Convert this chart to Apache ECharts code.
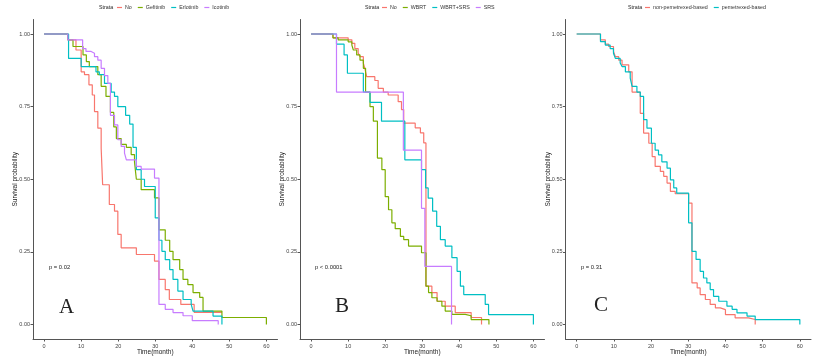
<!DOCTYPE html>
<html>
<head>
<meta charset="utf-8">
<script src="https://cdn.jsdelivr.net/npm/echarts@6/dist/echarts.min.js"></script>
<style>
  html, body { margin: 0; padding: 0; background: #fff; }
  #km { width: 816px; height: 361px; }
</style>
</head>
<body>
<div id="km"></div>
<script>
// panel A: EGFR-TKI  [month, survival]
const aNo = [[0,1],[6.4,0.98],[8.6,0.945],[10.0,0.87],[10.9,0.86],[12.1,0.825],[13.0,0.79],[13.6,0.733],[14.5,0.676],[15.4,0.607],[15.8,0.481],[17.6,0.413],[19.0,0.39],[19.9,0.31],[20.8,0.264],[24.9,0.241],[29.8,0.218],[31.0,0.155],[32.7,0.12],[33.8,0.086],[36.9,0.069],[40.5,0.042],[48,0.042]]
const aGef = [[0,1],[6.4,0.98],[7.8,0.957],[10.5,0.928],[11.4,0.905],[12.2,0.888],[14.5,0.86],[15.4,0.82],[16.7,0.785],[17.9,0.73],[18.8,0.68],[19.5,0.64],[20.8,0.62],[22.2,0.61],[23.5,0.585],[24.4,0.56],[24.9,0.50],[26.2,0.464],[29.8,0.436],[31.0,0.326],[32.7,0.29],[33.9,0.252],[34.8,0.223],[36.6,0.189],[37.5,0.155],[38.8,0.137],[40.2,0.11],[42.0,0.093],[42.9,0.046],[48,0.024],[60,0.024],[60,0]]
const aErl = [[0,1],[6.6,0.916],[10.0,0.888],[14.0,0.87],[14.9,0.86],[16.3,0.83],[18.1,0.80],[19.0,0.785],[19.9,0.75],[22.0,0.72],[23.1,0.69],[24.0,0.61],[24.9,0.533],[26.2,0.50],[27.1,0.475],[30.0,0.367],[31.0,0.29],[31.8,0.252],[32.7,0.223],[33.9,0.189],[34.8,0.155],[36.1,0.115],[37.5,0.086],[39.7,0.069],[40.2,0.046],[45.6,0.029],[48,0.029],[48,0]]
const aIco = [[0,1],[6.4,0.98],[10.4,0.95],[11.3,0.94],[12.7,0.934],[13.6,0.922],[14.5,0.91],[15.4,0.882],[16.3,0.857],[17.2,0.83],[17.9,0.72],[19.0,0.687],[19.9,0.636],[20.8,0.613],[21.7,0.59],[22.2,0.567],[24.9,0.544],[26.2,0.535],[29.8,0.504],[31.0,0.069],[32.7,0.052],[34.8,0.041],[37.5,0.03],[40.0,0.013],[47,0.013],[47,0]]

// panel B: brain radiotherapy
const bNo = [[0,1],[5.9,0.987],[10.0,0.98],[11.0,0.968],[11.8,0.95],[12.7,0.935],[13.2,0.922],[14.1,0.90],[14.5,0.882],[15.0,0.853],[17.2,0.84],[18.1,0.813],[19.5,0.80],[20.8,0.79],[23.5,0.767],[24.4,0.74],[25.0,0.693],[28.1,0.677],[29.5,0.66],[30.4,0.625],[31.0,0.132],[32.6,0.11],[34.0,0.08],[36.2,0.063],[38.9,0.041],[43.2,0.024],[46,0.024],[46,0]]
const bWbrt = [[0,1],[5.9,0.987],[7.3,0.98],[10.0,0.973],[11.0,0.962],[11.4,0.945],[12.3,0.928],[13.2,0.91],[14.1,0.882],[14.7,0.80],[15.9,0.75],[16.8,0.70],[17.9,0.573],[19.1,0.533],[20.0,0.44],[20.9,0.395],[21.8,0.35],[22.7,0.33],[24.1,0.303],[25.0,0.292],[26.3,0.27],[29.8,0.247],[31.0,0.132],[31.7,0.11],[32.6,0.092],[34.0,0.08],[35.3,0.063],[36.2,0.046],[38.0,0.035],[41.6,0.03],[43.2,0.017],[48,0.017],[48,0]]
const bWbrtSrs = [[0,1],[6.85,0.965],[8.9,0.928],[9.8,0.865],[14.1,0.80],[15.9,0.765],[19.0,0.70],[25.3,0.567],[29.8,0.533],[30.9,0.47],[31.6,0.435],[32.8,0.39],[33.9,0.338],[34.9,0.292],[36.2,0.27],[38.0,0.23],[39.4,0.183],[40.3,0.132],[41.2,0.103],[47.0,0.069],[47.9,0.034],[60,0.034],[60,0]]
const bSrs = [[0,1],[6.85,0.8],[24.9,0.6],[29.8,0.4],[30.7,0.2],[37.9,0]]

// panel C: pemetrexed
const cNonPem = [[0,1],[6.4,0.98],[7.7,0.965],[8.6,0.957],[9.9,0.94],[10.4,0.922],[11.3,0.91],[12.2,0.894],[14.0,0.87],[14.9,0.80],[17.1,0.727],[18.0,0.659],[19.4,0.624],[20.3,0.578],[21.1,0.544],[22.5,0.527],[23.4,0.51],[24.3,0.487],[25.2,0.458],[26.5,0.45],[30.1,0.418],[31.0,0.143],[32.4,0.126],[33.2,0.103],[34.6,0.086],[35.9,0.069],[37.3,0.057],[38.6,0.051],[40.0,0.034],[42.6,0.023],[46.2,0.017],[48,0.013],[48,0]]
const cPem = [[0,1],[6.4,0.974],[7.7,0.962],[9.0,0.95],[9.9,0.934],[10.4,0.916],[11.7,0.90],[12.2,0.888],[13.1,0.87],[14.4,0.848],[14.9,0.82],[16.2,0.80],[17.1,0.785],[18.0,0.705],[18.9,0.676],[20.1,0.624],[21.1,0.60],[22.0,0.584],[22.9,0.56],[24.3,0.538],[25.2,0.498],[26.1,0.47],[26.9,0.452],[30.1,0.35],[31.0,0.252],[32.1,0.224],[33.2,0.183],[34.1,0.16],[35.0,0.143],[35.9,0.12],[36.8,0.097],[38.2,0.08],[40.4,0.063],[41.8,0.052],[43.1,0.04],[45.8,0.029],[48,0.017],[60,0.017],[60,0]]

const xTicks = [0, 10, 20, 30, 40, 50, 60]
const yTicks = [0, 0.25, 0.5, 0.75, 1]

const RED = '#F8766D', GREEN = '#7CAE00', CYAN = '#00BFC4', PURPLE = '#C77CFF'

let chart = echarts.init(document.getElementById('km'))

const gridLefts = [33, 300, 565.5]
const gridWidths = [244.5, 244.5, 245.5]

function mkX (i) {
  return {
    type: 'value', gridIndex: i, min: -3, max: 63,
    splitLine: { show: false },
    axisLine: { show: true, onZero: false, lineStyle: { color: '#555', width: 1 } },
    axisTick: { show: true, customValues: xTicks, length: 2.5, lineStyle: { color: '#555' } },
    axisLabel: { customValues: xTicks, fontSize: 5.5, color: '#444', margin: 4.5, fontFamily: 'Liberation Sans' },
    name: 'Time(month)', nameLocation: 'middle', nameGap: 10, nameMoveOverlap: false,
    nameTextStyle: { fontSize: 6.5, color: '#222', fontFamily: 'Liberation Sans' }
  }
}
function mkY (i) {
  return {
    type: 'value', gridIndex: i, min: -0.05, max: 1.05,
    splitLine: { show: false },
    axisLine: { show: true, onZero: false, lineStyle: { color: '#555', width: 1 } },
    axisTick: { show: true, customValues: yTicks, length: 2.5, lineStyle: { color: '#555' } },
    axisLabel: { customValues: yTicks, fontSize: 5.5, color: '#444', margin: 3, fontFamily: 'Liberation Sans',
      formatter: v => v.toFixed(2) },
    name: 'Survival probability', nameLocation: 'middle', nameGap: 14, nameMoveOverlap: false,
    nameTextStyle: { fontSize: 6.5, color: '#222', fontFamily: 'Liberation Sans' }
  }
}
function km (name, data, color, i) {
  return {
    name: name, type: 'line', step: 'end', data: data,
    xAxisIndex: i, yAxisIndex: i, showSymbol: false, animation: false,
    lineStyle: { color: color, width: 1.2 }, itemStyle: { color: color }
  }
}
function txt (x, y, text, size, family) {
  return { type: 'text', x: x, y: y,
    style: { text: text, fontSize: size, fill: '#222', fontFamily: family || 'Liberation Sans', verticalAlign: 'middle' } }
}
function lg (left, names) {
  return {
    left: left, top: 5, padding: 0, icon: 'rect', itemWidth: 5, itemHeight: 1.2, itemGap: 6,
    data: names, textStyle: { fontSize: 5.3, color: '#333', padding: [0, 0, 0, -2], fontFamily: 'Liberation Sans' }
  }
}

chart.setOption({
  animation: false,
  grid: [0, 1, 2].map(i => ({ left: gridLefts[i], width: gridWidths[i], top: 19.5, height: 320 })),
  xAxis: [0, 1, 2].map(mkX),
  yAxis: [0, 1, 2].map(mkY),
  legend: [
    lg(117, ['No', 'Gefitinib', 'Erlotinib', 'Icotinib']),
    lg(382, ['No', 'WBRT', 'WBRT+SRS', 'SRS']),
    lg(645, ['non-pemetrexed-based', 'pemetrexed-based'])
  ],
  graphic: [
    txt(99, 8, 'Strata', 5.3), txt(365, 8, 'Strata', 5.3), txt(628, 8, 'Strata', 5.3),
    txt(49, 267, 'p = 0.02', 5.8), txt(315, 267, 'p < 0.0001', 5.8), txt(581, 267, 'p = 0.31', 5.8),
    txt(59, 307, 'A', 21, 'Liberation Serif'), txt(335, 306, 'B', 21, 'Liberation Serif'), txt(594, 305, 'C', 21, 'Liberation Serif')
  ],
  series: [
    km('No', aNo, RED, 0), km('Gefitinib', aGef, GREEN, 0), km('Erlotinib', aErl, CYAN, 0), km('Icotinib', aIco, PURPLE, 0),
    km('No', bNo, RED, 1), km('WBRT', bWbrt, GREEN, 1), km('WBRT+SRS', bWbrtSrs, CYAN, 1), km('SRS', bSrs, PURPLE, 1),
    km('non-pemetrexed-based', cNonPem, RED, 2), km('pemetrexed-based', cPem, CYAN, 2)
  ]
})
</script>
</body>
</html>
